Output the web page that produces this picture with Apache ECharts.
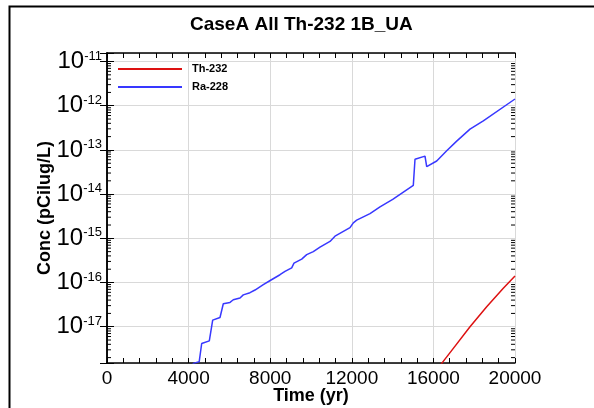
<!DOCTYPE html>
<html>
<head>
<meta charset="utf-8">
<script src="https://cdn.jsdelivr.net/npm/echarts@6/dist/echarts.min.js"></script>
<style>html,body{margin:0;padding:0;background:#fff}#c{width:594px;height:408px}</style>
</head>
<body>
<div id="c"></div>
<script>
// ---- data ----
const titleText = 'CaseA All Th-232 1B_UA';
const xName = 'Time (yr)';
const yName = 'Conc (pCilug/L)';
const seriesNames = ['Th-232', 'Ra-228'];
const xTicks = [0, 4000, 8000, 12000, 16000, 20000];
const yMin = 1.51e-18;
const yMax = 1.56e-11;

const thTime = [16200, 16407, 16977, 17794, 18612, 19426, 20000];
const thConc = [1.0e-18, 1.48e-18, 3.24e-18, 1.0e-17, 2.82e-17, 7.41e-17, 1.41e-16];

const raTime = [4100, 4230, 4520, 4642, 5015, 5181, 5539, 5701, 6029, 6191, 6520, 6681, 7010, 7255, 7662,
  8000, 8480, 8725, 9054, 9167, 9544, 9789, 10113, 10441, 10931, 11176, 11912, 12074, 12240, 12892,
  13382, 14005, 15015, 15098, 15181, 15588, 15672, 15750, 16162, 16652, 17142, 17794, 18446, 20000];
const raConc = [1.0e-18, 1.48e-18, 1.62e-18, 4.17e-18, 4.79e-18, 1.41e-17, 1.62e-17, 3.31e-17, 3.55e-17, 4.07e-17, 4.47e-17, 5.25e-17, 5.89e-17, 6.76e-17, 8.91e-17,
  1.11e-16, 1.50e-16, 1.78e-16, 2.14e-16, 2.75e-16, 3.39e-16, 4.27e-16, 5.01e-16, 6.31e-16, 8.51e-16, 1.12e-15, 1.74e-15, 2.24e-15, 2.57e-15, 3.63e-15,
  5.13e-15, 7.59e-15, 1.58e-14, 6.17e-14, 6.46e-14, 7.24e-14, 4.17e-14, 4.07e-14, 5.62e-14, 9.55e-14, 1.58e-13, 2.95e-13, 4.57e-13, 1.42e-12];

// ---- build ----
const zip = (a, b) => a.map((v, i) => [v, b[i]]);
const minorVals = [];
for (let e = -19; e <= -11; e++) {
  for (let k = 2; k <= 9; k++) {
    const v = k * Math.pow(10, e);
    if (v > yMin && v < yMax) minorVals.push([xTicks[0], v]);
  }
}
const xMin = xTicks[0], xMax = xTicks[xTicks.length - 1];

const labelFmt = function (v) {
  const e = Math.log10(v);
  const r = Math.round(e);
  if (Math.abs(e - r) > 0.01) return '';
  return '{a|10}{b|' + r + '}';
};

const chart = echarts.init(document.getElementById('c'), null, {renderer: 'canvas'});
const font = 'Liberation Sans, Arial, Helvetica, sans-serif';
const xAxisBase = {
  type: 'value', min: xMin, max: xMax, interval: 4000,
  axisLine: {show: true, lineStyle: {color: '#000', width: 1.5}},
  axisTick: {show: true, inside: true, length: 5, lineStyle: {color: '#000'}},
  minorTick: {show: true, splitNumber: 5, length: 5, lineStyle: {color: '#000'}},
};
const yAxisBase = {
  type: 'log', min: yMin, max: yMax,
  axisLine: {show: true, lineStyle: {color: '#000', width: 1.5}},
  axisTick: {show: true, inside: true, length: 7, lineStyle: {color: '#000'}},
};
chart.setOption({
  animation: false,
  textStyle: {fontFamily: font},
  title: {
    text: titleText, left: 190, top: 15, padding: 0,
    textStyle: {fontFamily: font, fontSize: 19, fontWeight: 'bold', color: '#000'}
  },
  legend: {
    data: seriesNames, orient: 'vertical', left: 118, top: 62, padding: 0,
    icon: 'rect', itemWidth: 64, itemHeight: 2, itemGap: 4,
    textStyle: {fontFamily: font, fontSize: 11, fontWeight: 'bold', color: '#000', lineHeight: 14, padding: [0, 0, 0, 5]}
  },
  grid: {left: 107, right: 79, top: 53, bottom: 45, containLabel: false, outerBoundsMode: 'none'},
  xAxis: [
    Object.assign({}, xAxisBase, {
      position: 'bottom',
      name: xName, nameLocation: 'middle', nameGap: 24, nameMoveOverlap: false,
      nameTextStyle: {fontFamily: font, fontSize: 18, fontWeight: 'bold', color: '#000'},
      axisLabel: {show: true, margin: 6, fontSize: 19, color: '#000', fontFamily: font,
        formatter: function (v) { return String(v); }},
      splitLine: {show: true, lineStyle: {color: '#d9d9d9', width: 1}}
    }),
    Object.assign({}, xAxisBase, {
      position: 'top', axisLabel: {show: false}, splitLine: {show: false}
    })
  ],
  yAxis: [
    Object.assign({}, yAxisBase, {
      position: 'left',
      name: yName, nameLocation: 'middle', nameGap: 53, nameRotate: 90, nameMoveOverlap: false,
      nameTextStyle: {fontFamily: font, fontSize: 18, fontWeight: 'bold', color: '#000'},
      axisLabel: {
        show: true, margin: 5, color: '#000', formatter: labelFmt,
        rich: {
          a: {fontSize: 24, fontFamily: font, color: '#000', lineHeight: 24},
          b: {fontSize: 13, fontFamily: font, color: '#000', verticalAlign: 'top', lineHeight: 13}
        }
      },
      splitLine: {show: true, lineStyle: {color: '#d9d9d9', width: 1}}
    }),
    Object.assign({}, yAxisBase, {
      position: 'right', axisLabel: {show: false}, splitLine: {show: false}
    })
  ],
  graphic: [{
    type: 'rect', left: 7, top: 4, silent: true, z: 100,
    shape: {width: 620, height: 440},
    style: {fill: 'none', stroke: '#000', lineWidth: 2}
  }],
  series: [
    {
      name: seriesNames[0], type: 'line', data: zip(thTime, thConc),
      showSymbol: false, symbol: 'none', lineStyle: {color: '#dd1111', width: 1.5}, itemStyle: {color: '#dd1111'},
      clip: true, z: 5
    },
    {
      name: seriesNames[1], type: 'line', data: zip(raTime, raConc),
      showSymbol: false, symbol: 'none', lineStyle: {color: '#3838ff', width: 1.5}, itemStyle: {color: '#3838ff'},
      clip: true, z: 5
    },
    {
      name: 'minorTicks', type: 'custom', data: minorVals, silent: true, z: 10,
      renderItem: function (params, api) {
        const v = api.value(1);
        const pL = api.coord([xMin, v]);
        const pR = api.coord([xMax, v]);
        return {type: 'group', children: [
          {type: 'line', shape: {x1: pL[0], y1: pL[1], x2: pL[0] + 4, y2: pL[1]}, style: {stroke: '#000', lineWidth: 1}},
          {type: 'line', shape: {x1: pR[0] - 4, y1: pR[1], x2: pR[0], y2: pR[1]}, style: {stroke: '#000', lineWidth: 1}}
        ]};
      }
    }
  ]
});
</script>
</body>
</html>
